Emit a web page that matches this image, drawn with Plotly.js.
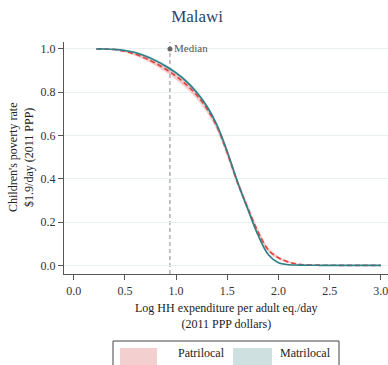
<!DOCTYPE html>
<html><head><meta charset="utf-8">
<script src="https://cdn.plot.ly/plotly-3.0.1.min.js"></script>
<style>html,body{margin:0;padding:0;background:#fff}#chart{width:388px;height:365px}</style>
</head><body><div id="chart"></div>
<script>
// Data
const xs = [0.22,0.3,0.4,0.5,0.6,0.7,0.8,0.9,1.0,1.1,1.2,1.3,1.4,1.5,1.6,1.7,1.8,1.9,2.0,2.1,2.2,2.4,2.6,2.8,3.0];
const matrilocal = [1.0,1.0,0.998,0.993,0.983,0.967,0.946,0.92,0.889,0.85,0.80,0.735,0.647,0.525,0.385,0.26,0.14,0.05,0.012,0.003,0.001,0,0,0,0];
const patrilocal = [1.0,1.0,0.997,0.989,0.976,0.957,0.934,0.906,0.874,0.835,0.787,0.725,0.64,0.52,0.383,0.265,0.155,0.072,0.035,0.015,0.005,0.001,0,0,0];
const patriLo = [1.0,0.999,0.994,0.984,0.969,0.948,0.922,0.892,0.858,0.818,0.77,0.707,0.622,0.5,0.365,0.248,0.14,0.062,0.028,0.01,0.003,0,0,0,0];
const patriHi = [1.0,1.0,0.999,0.994,0.983,0.966,0.946,0.92,0.89,0.852,0.804,0.743,0.658,0.54,0.401,0.282,0.17,0.082,0.042,0.02,0.007,0.002,0.001,0,0];
const matriLo = [1.0,0.999,0.996,0.989,0.977,0.96,0.938,0.911,0.88,0.84,0.79,0.725,0.637,0.515,0.375,0.251,0.132,0.045,0.008,0.001,0,0,0,0,0];
const matriHi = [1.0,1.0,0.999,0.996,0.988,0.973,0.953,0.928,0.897,0.859,0.81,0.745,0.657,0.535,0.395,0.269,0.148,0.055,0.015,0.005,0.002,0.001,0,0,0];
const medianX = [0.94];
const medianY = [1.0];
const xTicks = [0,0.5,1,1.5,2,2.5,3];
const xTickText = ['0.0','0.5','1.0','1.5','2.0','2.5','3.0'];
const yTicks = [0,0.2,0.4,0.6,0.8,1.0];
const yTickText = ['0.0','0.2','0.4','0.6','0.8','1.0'];
const legendNames = ['Patrilocal','Matrilocal'];

const FONT = 'Liberation Serif, serif';
const band = (lo, hi, color) => ({
  x: xs.concat(xs.slice().reverse()),
  y: hi.concat(lo.slice().reverse()),
  type: 'scatter', mode: 'lines', fill: 'toself', fillcolor: color,
  line: {width: 0, shape: 'spline'}, hoverinfo: 'skip', showlegend: false
});

const traces = [
  band(patriLo, patriHi, 'rgba(240,165,165,0.6)'),
  band(matriLo, matriHi, 'rgba(165,198,198,0.6)'),
  {x: xs, y: patrilocal, type: 'scatter', mode: 'lines', line: {color: '#e0403a', width: 1.6, dash: '5px,3px', shape: 'spline'}, showlegend: false},
  {x: xs, y: matrilocal, type: 'scatter', mode: 'lines', line: {color: '#2f8088', width: 1.6, shape: 'spline'}, showlegend: false},
  {x: medianX, y: medianY, type: 'scatter', mode: 'markers+text', marker: {color: '#666', size: 5},
   text: ['Median'], textposition: 'middle right', textfont: {family: FONT, size: 11, color: '#555'}, showlegend: false}
];

const layout = {
  width: 388, height: 365,
  margin: {l: 64, r: 0, t: 42, b: 91, pad: 0},
  paper_bgcolor: '#fff', plot_bgcolor: '#fff',
  showlegend: false,
  font: {family: FONT, size: 12, color: '#333'},
  title: {text: 'Malawi', x: 0.508, xanchor: 'center', y: 0.955, yanchor: 'middle', font: {family: FONT, size: 17, color: '#2a4468'}},
  xaxis: {range: [-0.095, 3.07], tickvals: xTicks, ticktext: xTickText, ticks: 'outside', ticklen: 5, tickcolor: '#555',
          showline: true, linecolor: '#555', linewidth: 1.2, showgrid: false, zeroline: false, fixedrange: true,
          ticklabeloverflow: 'allow', tickfont: {family: FONT, size: 12, color: '#333'}},
  yaxis: {range: [-0.04, 1.032], tickvals: yTicks, ticktext: yTickText, ticks: 'outside', ticklen: 5, tickcolor: '#555',
          showline: true, linecolor: '#555', linewidth: 1.2, showgrid: true, gridcolor: '#e8f0f1', gridwidth: 1, zeroline: false,
          fixedrange: true, tickfont: {family: FONT, size: 12, color: '#333'}},
  shapes: [
    {type: 'line', xref: 'x', yref: 'paper', x0: medianX[0], x1: medianX[0], y0: 0, y1: 1, line: {color: '#888', width: 1, dash: '4px,3px'}, layer: 'below'},
    {type: 'rect', xref: 'paper', yref: 'paper', x0: (113-64)/324, x1: (339-64)/324, y0: (274-378)/232, y1: (274-341)/232, line: {color: '#444', width: 1}, fillcolor: '#fff'},
    {type: 'rect', xref: 'paper', yref: 'paper', x0: (120-64)/324, x1: (157-64)/324, y0: (274-372)/232, y1: (274-348)/232, line: {width: 0}, fillcolor: '#f4cfcf'},
    {type: 'rect', xref: 'paper', yref: 'paper', x0: (233-64)/324, x1: (272-64)/324, y0: (274-372)/232, y1: (274-348)/232, line: {width: 0}, fillcolor: '#cfe0e0'}
  ],
  annotations: [
    {text: "Children's poverty rate<br>$1.9/day (2011 PPP)", xref: 'paper', yref: 'paper', x: (21-64)/324, y: 0.5, textangle: -90,
     showarrow: false, xanchor: 'center', yanchor: 'middle', font: {family: FONT, size: 12, color: '#222'}},
    {text: 'Log HH expenditure per adult eq./day<br>(2011 PPP dollars)', xref: 'paper', yref: 'paper', x: (226-64)/324, y: (274-316)/232,
     showarrow: false, xanchor: 'center', yanchor: 'middle', font: {family: FONT, size: 12, color: '#222'}},
    {text: legendNames[0], xref: 'paper', yref: 'paper', x: (176-64)/324, y: (274-353)/232, showarrow: false, xanchor: 'left', yanchor: 'middle',
     font: {family: FONT, size: 12, color: '#222'}},
    {text: legendNames[1], xref: 'paper', yref: 'paper', x: (278-64)/324, y: (274-353)/232, showarrow: false, xanchor: 'left', yanchor: 'middle',
     font: {family: FONT, size: 12, color: '#222'}}
  ]
};
Plotly.newPlot('chart', traces, layout, {displayModeBar: false, staticPlot: true});
</script></body></html>
